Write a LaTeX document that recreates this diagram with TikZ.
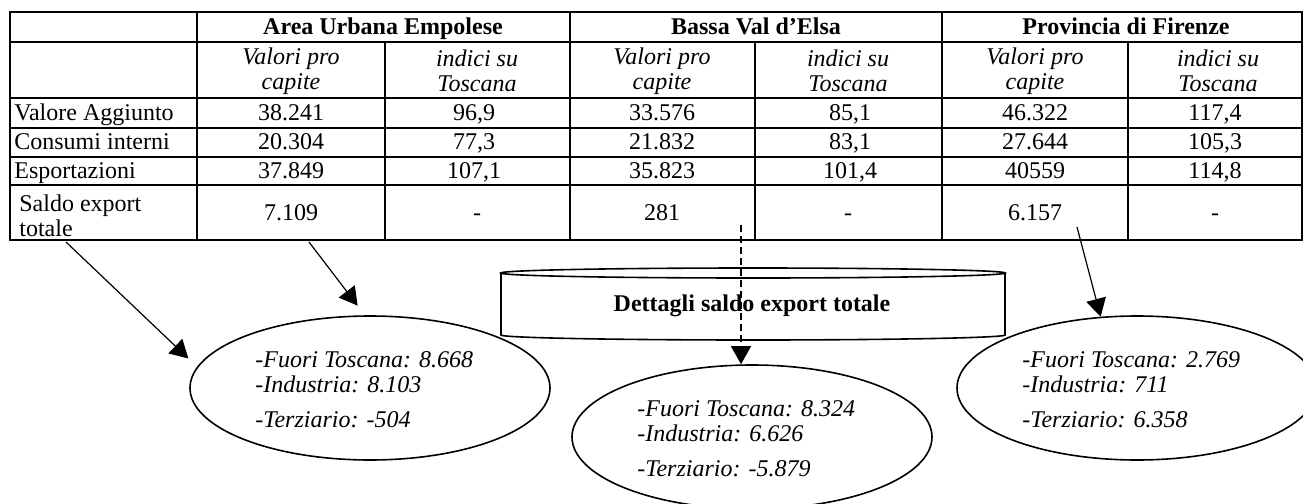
\documentclass[tikz,border=0pt]{standalone}
\usepackage{fontspec}
\setmainfont{Liberation Serif}
\usetikzlibrary{arrows.meta,shapes.geometric}
\begin{document}
\begin{tikzpicture}[x=0.5pt,y=-0.5pt,
  grid/.style={line width=1.25pt},
  txt/.style={inner sep=0pt, font=\fontsize{12}{12.5}\selectfont},
  one/.style={txt, text height=8.5pt, text depth=2.5pt},
  hd/.style={one, font=\fontsize{12}{12.5}\selectfont\bfseries},
  sub/.style={txt, font=\fontsize{12}{12.5}\selectfont\itshape, align=center},
  lbl/.style={one, anchor=west},
  bubble/.style={ellipse, draw, line width=0.8pt, minimum width=180pt, minimum height=72pt, inner sep=0pt},
  bl/.style={inner sep=0pt, anchor=base west, font=\fontsize{12}{12.5}\selectfont\itshape},
  conn/.style={line width=0.6pt, -{Triangle[length=9pt,width=10pt]}},
  dashconn/.style={conn, dash pattern=on 3.5pt off 2pt},
]
\useasboundingbox (0,0) rectangle (1303,504);
\fill[white] (0,0) rectangle (1303,504);

% table grid
\draw[grid] (10,12) rectangle (1302,240);
\foreach \yy in {42,98,128,157,185} \draw[grid] (10,\yy) -- (1302,\yy);
\foreach \xx in {197,570,942} \draw[grid] (\xx,12) -- (\xx,240);
\foreach \xx in {385,755,1128} \draw[grid] (\xx,42) -- (\xx,240);

% header row 1
\node[hd] (hA) at (383,28) {Area Urbana Empolese};
\node[hd] (hB) at (756,28) {Bassa Val d’Elsa};
\node[hd] (hC) at (1126,28) {Provincia di Firenze};

% header row 2
\node[sub] (sA1) at (291,71) {Valori pro\\capite};
\node[sub] (sA2) at (477,71) {indici su\\Toscana};
\node[sub] (sB1) at (662,71) {Valori pro\\capite};
\node[sub] (sB2) at (848,71) {indici su\\Toscana};
\node[sub] (sC1) at (1035,71) {Valori pro\\capite};
\node[sub] (sC2) at (1218,71) {indici su\\Toscana};

% row labels
\node[lbl] (rVA) at (14,114) {Valore Aggiunto};
\node[lbl] (rCI) at (14,143) {Consumi interni};
\node[lbl] (rES) at (14,172) {Esportazioni};
\node[txt, anchor=west, align=left] (rSE) at (19,216) {Saldo export\\totale};

% values
\node[one] (vA1) at (291,114) {38.241};
\node[one] (vA2) at (474,114) {96,9};
\node[one] (vB1) at (662,114) {33.576};
\node[one] (vB2) at (850,114) {85,1};
\node[one] (vC1) at (1035,114) {46.322};
\node[one] (vC2) at (1215,114) {117,4};

\node[one] (cA1) at (291,143) {20.304};
\node[one] (cA2) at (474,143) {77,3};
\node[one] (cB1) at (662,143) {21.832};
\node[one] (cB2) at (850,143) {83,1};
\node[one] (cC1) at (1035,143) {27.644};
\node[one] (cC2) at (1215,143) {105,3};

\node[one] (eA1) at (291,172) {37.849};
\node[one] (eA2) at (474,172) {107,1};
\node[one] (eB1) at (662,172) {35.823};
\node[one] (eB2) at (850,172) {101,4};
\node[one] (eC1) at (1035,172) {40559};
\node[one] (eC2) at (1215,172) {114,8};

\node[one] (tA1) at (291,214) {7.109};
\node[one] (tA2) at (477,214) {-};
\node[one] (tB1) at (662,214) {281};
\node[one] (tB2) at (848,214) {-};
\node[one] (tC1) at (1035,214) {6.157};
\node[one] (tC2) at (1215,214) {-};

% cylinder
\draw[line width=0.8pt] (501,273) -- (501,335)
  arc[start angle=180, end angle=360, x radius=126pt, y radius=2.5pt] -- (1005,273);
\draw[line width=0.8pt] (753,273) ellipse [x radius=126pt, y radius=2.5pt];
\node[hd] (cyl) at (752,305) {Dettagli saldo export totale};

% ellipses
\node[bubble] (e1) at (370,388) {};
\node[bl] (e1a) at (255,367) {-Fuori Toscana: 8.668};
\node[bl] (e1b) at (255,392) {-Industria: 8.103};
\node[bl] (e1c) at (255,427) {-Terziario: -504};

\node[bubble] (e2) at (752,437) {};
\node[bl] (e2a) at (637,416) {-Fuori Toscana: 8.324};
\node[bl] (e2b) at (637,441) {-Industria: 6.626};
\node[bl] (e2c) at (637,476) {-Terziario: -5.879};

\node[bubble] (e3) at (1137,388) {};
\node[bl] (e3a) at (1022,367) {-Fuori Toscana: 2.769};
\node[bl] (e3b) at (1022,392) {-Industria: 711};
\node[bl] (e3c) at (1022,427) {-Terziario: 6.358};

% connectors
\coordinate (a1s) at (66,242);
\coordinate (a2s) at (309,242);
\coordinate (a3s) at (741,225);
\coordinate (a4s) at (1077,227);
\draw[conn, shorten >=6pt] (a1s) -- (e1.173);
\draw[conn, shorten >=6pt] (a2s) -- (e1.94);
\draw[dashconn] (a3s) -- (a3s |- e2.north);
\draw[conn] (a4s) -- (e3.117);
\end{tikzpicture}
\end{document}
